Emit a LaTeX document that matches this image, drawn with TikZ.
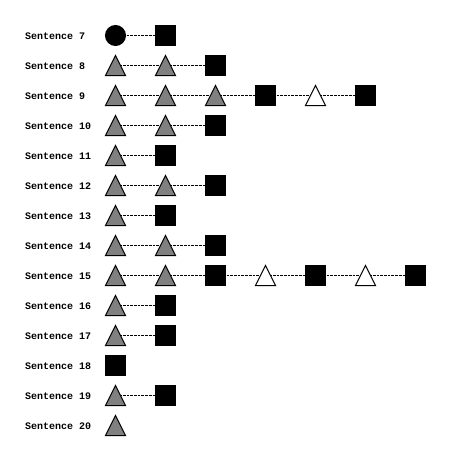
\documentclass[tikz,border=0pt]{standalone}
\usepackage{fontspec}
\setmonofont{Liberation Mono}
\usetikzlibrary{backgrounds}
\tikzset{
  lbl/.style={font=\ttfamily\bfseries\fontsize{10}{12}\selectfont, anchor=west, inner sep=0pt, text depth=0pt},
  cell/.style={minimum size=20pt, inner sep=0pt, outer sep=0pt, line width=1pt},
  shS/.style={draw=black, fill=black},
  shC/.style={circle, draw=black, fill=black},
  shT/.style={},
  shW/.style={},
  trig/.style={draw=black, fill=gray, line width=1pt, line join=miter},
  triw/.style={draw=black, fill=white, line width=1pt, line join=miter},
  link/.style={draw=black, line width=1pt, dash pattern=on 2.7pt off 1pt}
}
\def\tT{T}
\def\tW{W}
\begin{document}
\begin{tikzpicture}[x=1pt, y=-1pt]
\useasboundingbox (0,0) rectangle (450,460);
\foreach \r/\list in {7/{C,S}, 8/{T,T,S}, 9/{T,T,T,S,W,S}, 10/{T,T,S}, 11/{T,S}, 12/{T,T,S}, 13/{T,S}, 14/{T,T,S}, 15/{T,T,S,W,S,W,S}, 16/{T,S}, 17/{T,S}, 18/{S}, 19/{T,S}, 20/{T}} {
  \node[lbl] (lab\r) at (25,{36.5+30*(\r-7)}) {Sentence \r};
  \foreach \k [count=\i from 0] in \list {
    \node[cell, sh\k] (n\r-\i) at ({115.5+50*\i},{35.5+30*(\r-7)}) {};
    \ifnum\i>0
      \pgfmathtruncatemacro\p{\i-1}
      \begin{pgfonlayer}{background}
        \draw[link] (n\r-\p.center) -- (n\r-\i.center);
      \end{pgfonlayer}
    \fi
    \ifx\k\tT
      \draw[trig] (n\r-\i.south west) -- (n\r-\i.north) -- (n\r-\i.south east) -- cycle;
    \fi
    \ifx\k\tW
      \draw[triw] (n\r-\i.south west) -- (n\r-\i.north) -- (n\r-\i.south east) -- cycle;
    \fi
  }
}
\end{tikzpicture}
\end{document}
